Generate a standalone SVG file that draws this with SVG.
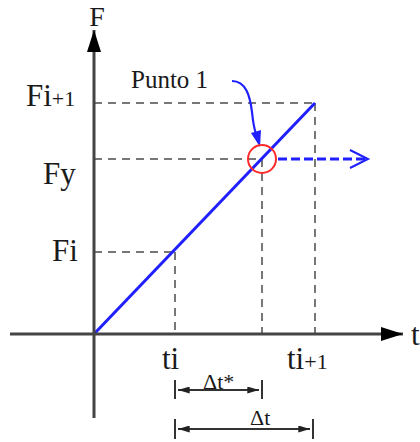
<svg xmlns="http://www.w3.org/2000/svg" width="420" height="442" viewBox="0 0 420 442">
<defs>
<style>
.lbl{font-family:"Liberation Serif","Times New Roman",serif;fill:#1a1a1a;font-size:31px}
.sm{font-size:22px}
.axis{stroke:#444;stroke-width:3;fill:none}
.dash{stroke:#777;stroke-width:2;stroke-dasharray:8 6;fill:none}
.dim{stroke:#333;stroke-width:2;fill:none}
.blue{stroke:#1f1fff;stroke-width:3;fill:none}
</style>
<marker id="axarr" viewBox="0 0 22 14" refX="22" refY="7" markerWidth="22" markerHeight="14" markerUnits="userSpaceOnUse" orient="auto">
<path d="M0,0 L22,7 L0,14 Z" fill="#000"/>
</marker>
<marker id="dimarr" viewBox="0 0 10 6" refX="10" refY="3" markerWidth="13" markerHeight="7" markerUnits="userSpaceOnUse" orient="auto-start-reverse">
<path d="M0,0 L10,3 L0,6 Z" fill="#222"/>
</marker>
</defs>
<g id="connectors">
<line class="dash" x1="94" y1="103" x2="315" y2="103"/>
<line class="dash" x1="94" y1="159" x2="262" y2="159"/>
<line class="dash" x1="94" y1="252" x2="175" y2="252"/>
<line class="dash" x1="175" y1="252" x2="175" y2="334"/>
<line class="dash" x1="262" y1="159" x2="262" y2="334"/>
<line class="dash" x1="315" y1="103" x2="315" y2="334"/>
<line class="blue" x1="94" y1="334" x2="315" y2="103"/>
<path class="blue" d="M278,159 L366,159" stroke-dasharray="9 4"/>
<path d="M350,150 L368,159 L350,168" stroke="#1f1fff" stroke-width="2" fill="none"/>
<path d="M232,81 C246,81 250,96 252,112 C253,122 254,128 256,134" stroke="#1f1fff" stroke-width="2.2" fill="none"/>
<polygon points="251,133 261,130 260,147" fill="#1f1fff"/>
</g>
<g id="axes">
<line class="axis" x1="94" y1="418" x2="94" y2="30" marker-end="url(#axarr)"/>
<line class="axis" x1="10" y1="334" x2="403" y2="334" marker-end="url(#axarr)"/>
</g>
<g id="point1">
<circle cx="262" cy="159" r="14" fill="none" stroke="#ff2a2a" stroke-width="2"/>
</g>
<g id="dims">
<line class="dim" x1="175" y1="380" x2="175" y2="399"/>
<line class="dim" x1="262" y1="380" x2="262" y2="399"/>
<line class="dim" x1="178" y1="390" x2="259" y2="390" marker-start="url(#dimarr)" marker-end="url(#dimarr)"/>
<line class="dim" x1="175" y1="419" x2="175" y2="439"/>
<line class="dim" x1="313" y1="419" x2="313" y2="439"/>
<line class="dim" x1="178" y1="429" x2="310" y2="429" marker-start="url(#dimarr)" marker-end="url(#dimarr)"/>
</g>
<g id="labels">
<text class="lbl" x="97" y="26" text-anchor="middle" style="font-size:28px">F</text>
<text class="lbl" x="26" y="106">Fi<tspan class="sm">+1</tspan></text>
<text class="lbl" x="43" y="184">Fy</text>
<text class="lbl" x="52" y="261">Fi</text>
<text class="lbl" x="411" y="345">t</text>
<text class="lbl" x="162" y="369">ti</text>
<text class="lbl" x="287" y="369">ti<tspan class="sm">+1</tspan></text>
<text class="lbl" x="131" y="88" style="font-size:25px">Punto 1</text>
<text class="lbl sm" x="203" y="389">Δt*</text>
<text class="lbl sm" x="250" y="425">Δt</text>
</g>
</svg>
